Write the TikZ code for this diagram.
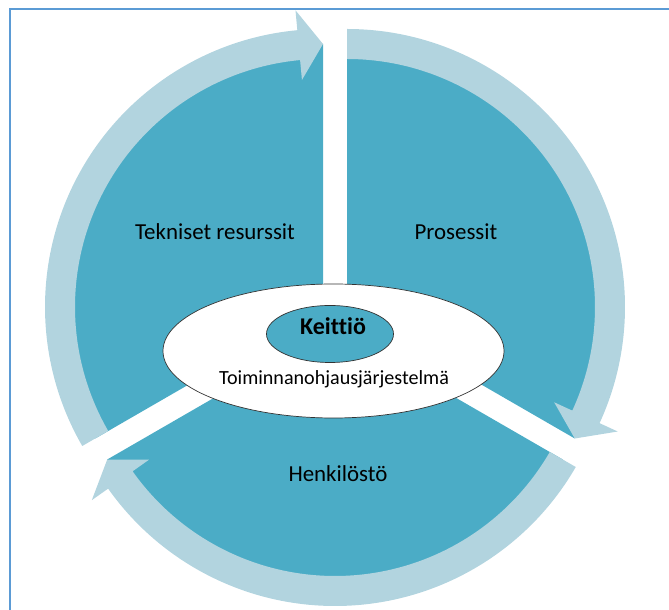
\documentclass[tikz,border=0pt]{standalone}
\usepackage{fontspec}
\setmainfont{Carlito}[Ligatures={NoCommon}]
\usetikzlibrary{shapes.geometric}
\definecolor{segteal}{RGB}{75,172,198}
\definecolor{bandblue}{RGB}{178,212,223}
\definecolor{frameblue}{RGB}{91,155,213}

\begin{document}
\begin{tikzpicture}[x=1pt, y=1pt,
    segfill/.style={fill=segteal},
    bandfill/.style={fill=bandblue},
    oval/.style={ellipse, draw=black!80, line width=0.7pt, inner sep=0pt},
    lbl/.style={inner sep=0pt, anchor=base, font=\fontsize{22.9}{27}\selectfont}]
  \useasboundingbox (0,0) rectangle (669,610);
  \draw[frameblue, line width=2pt] (10,0) -- (10,601) -- (669,601);
  % three segments, each with its arrow band
  \foreach \cx/\cy/\a in {323/303/210, 347/303/90, 335/282/330}
  {
    \begin{scope}[shift={(\cx,\cy)}]
      \fill[segfill] (0,0) -- (\a:263) arc[start angle=\a, delta angle=-120, radius=263] -- cycle;
      \pgfmathsetmacro\baseang{\a-114.7}
      \pgfmathsetmacro\tipang{\a-120}
      \fill[bandfill] (\a:248) -- (\a:278) arc[start angle=\a, end angle=\baseang, radius=278]
        -- (\baseang:298) -- (\tipang:263) -- (\baseang:228) -- (\baseang:248)
        arc[start angle=\baseang, end angle=\a, radius=248] -- cycle;
    \end{scope}
  }
  \node[oval, fill=white, minimum width=341pt, minimum height=134pt] (erp) at (333.5,259) {};
  \node[oval, fill=segteal, minimum width=127pt, minimum height=57pt] (kitchen) at (330,276) {};
  \node[lbl] (tek) at (215,370) {Tekniset resurssit};
  \node[lbl] (pro) at (456,370) {Prosessit};
  \node[lbl] (hen) at (338,128) {Henkilöstö};
  \node[lbl, font=\fontsize{20.1}{24}\selectfont] (erptxt) at (334,225) {Toiminnanohjausjärjestelmä};
  \node[lbl, font=\bfseries\fontsize{24}{29}\selectfont] (kt) at (333,275) {Keittiö};
\end{tikzpicture}
\end{document}
